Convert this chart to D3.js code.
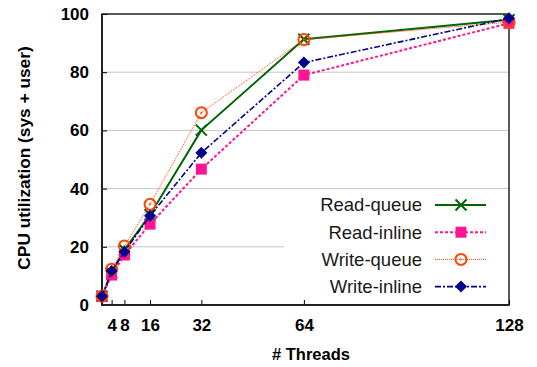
<!DOCTYPE html>
<html><head><meta charset="utf-8">
<script src="https://cdn.jsdelivr.net/npm/d3@7"></script>
<style>body{margin:0;background:#fff}</style>
</head><body><svg id="c" width="537" height="367"></svg>
<script>
const threads = [1, 4, 8, 16, 32, 64, 128];
const xTicks = [4, 8, 16, 32, 64, 128];
const yTicks = [0, 20, 40, 60, 80, 100];
const seriesNames = ["Read-queue", "Read-inline", "Write-queue", "Write-inline"];
const readQueue = [3, 11, 19, 31, 60.1, 91.3, 98];
const readInline = [3, 10.3, 17.2, 27.8, 46.7, 79, 96.8];
const writeQueue = [3, 12.3, 20.3, 34.6, 66.1, 91.2, 97.2];
const writeInline = [3, 11.7, 18.3, 30.7, 52.3, 83.3, 98.5];
const values = [readQueue, readInline, writeQueue, writeInline];

const styles = [
  {color: "#006400", width: 2, dash: null, marker: "x"},
  {color: "#ff1493", width: 2, dash: "3,2", marker: "square"},
  {color: "#ff4500", width: 1, dash: "1,1", marker: "circle"},
  {color: "#00008b", width: 1.6, dash: "6,2,2,2", marker: "diamond"}
];

const svg = d3.select("#c");
const L = 102, R = 509, T = 14, B = 305;
const x = d3.scaleLinear().domain([1, 128]).range([L, R]);
const y = d3.scaleLinear().domain([0, 100]).range([B, T]);
const font = "'Liberation Sans', Arial, Helvetica, sans-serif";

// gridlines
svg.append("g").selectAll("line").data(yTicks.filter(v => v > 0 && v < 100)).join("line")
  .attr("x1", L).attr("x2", R).attr("y1", d => y(d)).attr("y2", d => y(d))
  .attr("stroke", "#c4c4c4").attr("stroke-width", 1);

// legend background
const lg = svg.append("g");
lg.append("rect").attr("x", 284).attr("y", 193).attr("width", R - 284).attr("height", B - 193).attr("fill", "#fff");

// axes
const yAxis = svg.append("g").attr("transform", `translate(${L},0)`)
  .call(d3.axisLeft(y).tickValues(yTicks).tickSize(-5).tickPadding(13));
const xAxis = svg.append("g").attr("transform", `translate(0,${B})`)
  .call(d3.axisBottom(x).tickValues(xTicks).tickSize(-5).tickPadding(12));
[yAxis, xAxis].forEach(a => {
  a.select(".domain").remove();
  a.selectAll(".tick line").attr("stroke", "#000").attr("stroke-width", 1);
  a.selectAll(".tick text").attr("font-family", font).attr("font-size", 17).attr("font-weight", "bold").attr("fill", "#000");
});
xAxis.selectAll(".tick text").attr("dy", "0.85em");

// frame
svg.append("rect").attr("x", L).attr("y", T).attr("width", R - L).attr("height", B - T)
  .attr("fill", "none").attr("stroke", "#000").attr("stroke-width", 1.3);
svg.append("path").attr("d", `M${L},${T}V${B}H${R}`).attr("fill", "none").attr("stroke", "#222").attr("stroke-width", 2);

// axis titles
svg.append("text").attr("x", 311).attr("y", 360).attr("text-anchor", "middle")
  .attr("font-family", font).attr("font-size", 16.5).attr("font-weight", "bold").text("# Threads");
svg.append("text").attr("transform", `translate(29.5,158) rotate(-90)`).attr("text-anchor", "middle")
  .attr("font-family", font).attr("font-size", 17.3).attr("font-weight", "bold").text("CPU utilization (sys + user)");

function drawMarker(g, type, cx, cy, color) {
  if (type === "x") {
    const s = 5.5;
    g.append("path").attr("d", `M${cx - s},${cy - s}L${cx + s},${cy + s}M${cx - s},${cy + s}L${cx + s},${cy - s}`)
      .attr("stroke", color).attr("stroke-width", 2).attr("fill", "none");
  } else if (type === "square") {
    const s = 5.5;
    g.append("rect").attr("x", cx - s).attr("y", cy - s).attr("width", 2 * s).attr("height", 2 * s).attr("fill", color);
  } else if (type === "circle") {
    g.append("circle").attr("cx", cx).attr("cy", cy).attr("r", 5.5).attr("fill", "none").attr("stroke", color).attr("stroke-width", 2);
    g.append("circle").attr("cx", cx).attr("cy", cy).attr("r", 1).attr("fill", color);
  } else if (type === "diamond") {
    const s = 6;
    g.append("path").attr("d", `M${cx},${cy - s}L${cx + s},${cy}L${cx},${cy + s}L${cx - s},${cy}Z`).attr("fill", color);
  }
}

// series
const line = d3.line().x(d => x(d[0])).y(d => y(d[1]));
values.forEach((vals, i) => {
  const st = styles[i];
  const pts = threads.map((t, j) => [t, vals[j]]);
  const g = svg.append("g");
  g.append("path").attr("d", line(pts)).attr("fill", "none").attr("stroke", st.color)
    .attr("stroke-width", st.width).attr("stroke-dasharray", st.dash);
  pts.forEach(p => drawMarker(g, st.marker, x(p[0]), y(p[1]), st.color));
});

// legend entries
seriesNames.forEach((name, i) => {
  const st = styles[i];
  const yy = 205 + i * 27.2;
  lg.append("text").attr("x", 422).attr("y", yy).attr("dy", "0.35em").attr("text-anchor", "end")
    .attr("font-family", font).attr("font-size", 18.5).attr("fill", "#1a1a1a").text(name);
  lg.append("line").attr("x1", 435).attr("x2", 486).attr("y1", yy).attr("y2", yy)
    .attr("stroke", st.color).attr("stroke-width", st.width).attr("stroke-dasharray", st.dash);
  drawMarker(lg, st.marker, 461, yy, st.color);
});
</script></body></html>
